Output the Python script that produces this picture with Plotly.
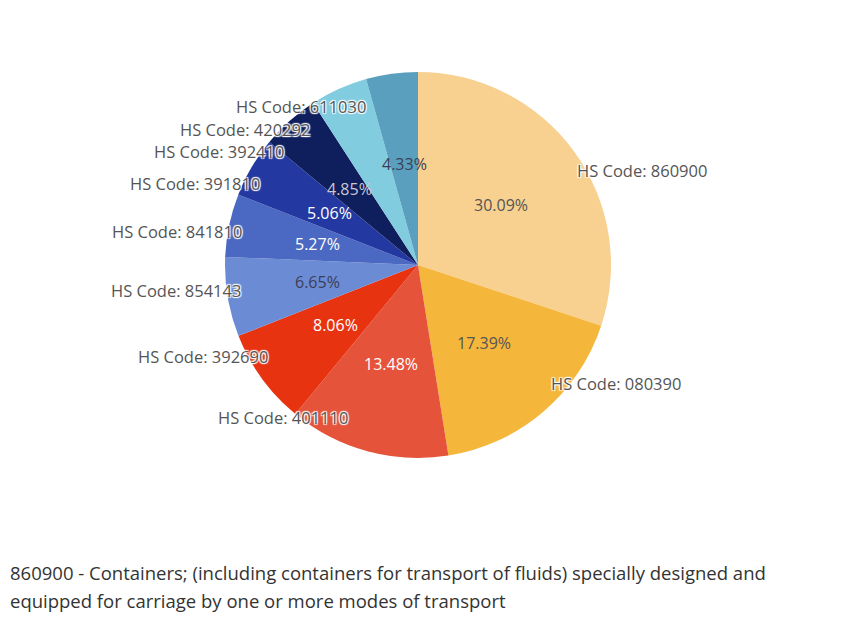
import math
import plotly.graph_objects as go

# HS codes and their share of the total (%)
codes = ["860900", "080390", "401110", "392690", "854143",
         "841810", "391810", "392410", "420292", "611030"]
shares = [30.09, 17.39, 13.48, 8.06, 6.65, 5.27, 5.06, 4.85, 4.82, 4.33]
colors = ["#F8D191", "#F5B73B", "#E5533A", "#E83311", "#6C8BD5",
          "#4B68C2", "#2338A0", "#0F1F5E", "#82CCE0", "#5A9FBE"]
show_pct = [True, True, True, True, True, True, True, True, False, True]
pct_color = ["#555555", "#555555", "#FFFFFF", "#FFFFFF", "#3A3F55",
             "#FFFFFF", "#FFFFFF", "#C8C8D0", "#555555", "#3A3F55"]

footnote = ["860900 - Containers; (including containers for transport of fluids) specially designed and",
            "equipped for carriage by one or more modes of transport"]

W, H = 867, 625
OFF = 8  # page margin the browser adds round the figure
CX, CY, R = 418 - OFF, 265 - OFF, 193  # pie centre and radius in pixels

# where each outer label sits (anchor x, y in px of the page, side)
label_pos = [(575, 170, "left"), (549, 383, "left"), (350, 417, "right"),
             (270, 356, "right"), (243, 290, "right"), (244, 231, "right"),
             (262, 183, "right"), (286, 151, "right"), (312, 129, "right"),
             (368, 107, "right")]

fig = go.Figure()
fig.add_trace(go.Pie(
    labels=["HS Code: " + c for c in codes],
    values=shares,
    sort=False,
    direction="clockwise",
    rotation=0,
    marker=dict(colors=colors, line=dict(width=0)),
    textinfo="none",
    hoverinfo="label+percent",
    showlegend=False,
    domain=dict(x=[(CX - R) / W, (CX + R) / W], y=[1 - (CY + R) / H, 1 - (CY - R) / H]),
))

halo = "1px 1px 1px #fff, -1px -1px 1px #fff, 1px -1px 1px #fff, -1px 1px 1px #fff"

# percentage labels, placed half way out along each slice's bisector
total = sum(shares)
cum = 0
annotations = []
for i, v in enumerate(shares):
    mid = (cum + v / 2) / total * 2 * math.pi
    cum += v
    if not show_pct[i]:
        continue
    px = CX + 0.53 * R * math.sin(mid)
    py = CY - 0.53 * R * math.cos(mid)
    annotations.append(dict(
        x=px / W, y=1 - py / H, xref="paper", yref="paper",
        xanchor="center", yanchor="middle",
        text=f"{v:.2f}%", showarrow=False,
        font=dict(family="Open Sans", size=16, color=pct_color[i]),
    ))

for c, (lx, ly, side) in zip(codes, label_pos):
    annotations.append(dict(
        x=(lx - OFF) / W, y=1 - (ly - OFF) / H, xref="paper", yref="paper",
        xanchor=side, yanchor="middle",
        text="HS Code: " + c, showarrow=False,
        font=dict(family="Open Sans", size=16.5, color="#555555", shadow=halo),
    ))

for k, line in enumerate(footnote):
    annotations.append(dict(
        x=(8 - OFF) / W, y=1 - (572 + 28 * k - OFF) / H, xref="paper", yref="paper",
        xanchor="left", yanchor="middle",
        text=line, showarrow=False,
        font=dict(family="Open Sans", size=18.5, color="#333333"),
    ))

fig.update_layout(
    width=W, height=H,
    margin=dict(l=0, r=0, t=0, b=0),
    paper_bgcolor="white",
    plot_bgcolor="white",
    annotations=annotations,
)

fig.write_html("out.html")
